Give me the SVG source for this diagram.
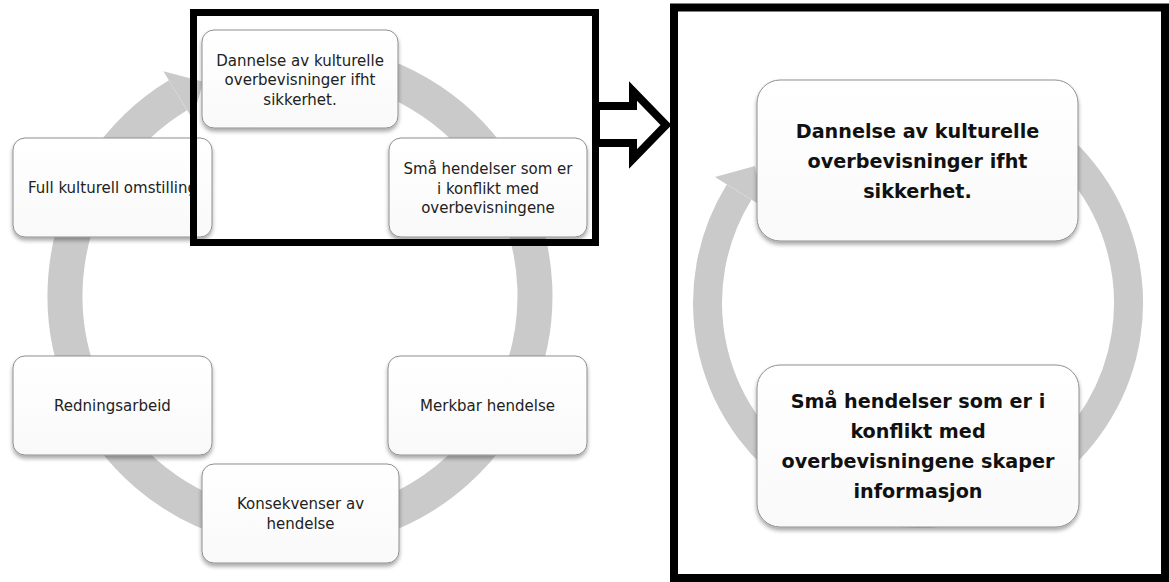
<svg xmlns="http://www.w3.org/2000/svg" width="1169" height="582" viewBox="0 0 1169 582">
<style>
.node{fill:url(#g);stroke:#8f8f8f;stroke-width:1;filter:url(#sh)}
.ring{fill:none;stroke:#cacaca}
.head{fill:#cacaca}
.t{font-family:"DejaVu Sans","Liberation Sans",sans-serif;font-size:15px;fill:#222;text-anchor:middle}
.tb{font-family:"DejaVu Sans","Liberation Sans",sans-serif;font-size:19.2px;font-weight:bold;fill:#111;text-anchor:middle}
.frame{fill:none;stroke:#000}
</style>
<defs>
<linearGradient id="g" x1="0" y1="0" x2="0" y2="1"><stop offset="0" stop-color="#ffffff"/><stop offset="1" stop-color="#f9f9f9"/></linearGradient>
<filter id="sh" x="-10%" y="-10%" width="120%" height="135%">
<feGaussianBlur in="SourceAlpha" stdDeviation="2"/>
<feOffset dy="3"/>
<feComponentTransfer><feFuncA type="linear" slope="0.35"/></feComponentTransfer>
<feMerge><feMergeNode/><feMergeNode in="SourceGraphic"/></feMerge>
</filter>
</defs>
<rect width="1169" height="582" fill="#fff"/>
<g id="connectors">
<path class="ring" stroke-width="35" d="M 320.5 61.9 A 235 235 0 1 1 177.9 95.2"/>
<polygon class="head" points="163.4,71.3 192.5,119.1 203.3,81.8"/>
<path class="ring" stroke-width="29" d="M 1023.3 120.7 A 210.5 210.5 0 1 1 739.1 192.1"/>
<polygon class="head" points="714.9,177 763.3,207.1 755,166"/>
</g>
<g id="node-dannelse"><rect class="node" x="202" y="30" width="196" height="98" rx="12"/>
<text class="t" x="300" y="65.5">Dannelse av kulturelle</text><text class="t" x="300" y="85">overbevisninger ifht</text><text class="t" x="300" y="104.5">sikkerhet.</text></g>
<g id="node-sma"><rect class="node" x="389" y="138" width="198" height="99" rx="12"/>
<text class="t" x="488" y="174">Små hendelser som er</text><text class="t" x="488" y="193.5">i konflikt med</text><text class="t" x="488" y="213">overbevisningene</text></g>
<g id="node-merkbar"><rect class="node" x="388" y="356" width="199" height="99" rx="12"/>
<text class="t" x="487.5" y="411">Merkbar hendelse</text></g>
<g id="node-konsekvenser"><rect class="node" x="202" y="464" width="197" height="99" rx="12"/>
<text class="t" x="300.5" y="509">Konsekvenser av</text><text class="t" x="300.5" y="528.5">hendelse</text></g>
<g id="node-redning"><rect class="node" x="13" y="356" width="199" height="99" rx="12"/>
<text class="t" x="112.5" y="411">Redningsarbeid</text></g>
<g id="node-full"><rect class="node" x="13" y="138" width="199" height="99" rx="12"/>
<text class="t" x="112.5" y="193">Full kulturell omstilling</text></g>
<rect id="frame-left" class="frame" stroke-width="7" x="193.5" y="12.5" width="402" height="230"/>
<g id="connector-arrow">
<polygon points="596,106 633,106 633,91 666,125 633,159 633,143 596,143" fill="#fff" stroke="#000" stroke-width="8" stroke-linejoin="miter"/>
</g>
<g id="node-r-dannelse"><rect class="node" x="757" y="80" width="321" height="161" rx="23"/>
<text class="tb" x="917.5" y="138">Dannelse av kulturelle</text><text class="tb" x="917.5" y="168">overbevisninger ifht</text><text class="tb" x="917.5" y="198">sikkerhet.</text></g>
<g id="node-r-sma"><rect class="node" x="757" y="365" width="322" height="162" rx="23"/>
<text class="tb" x="918" y="408">Små hendelser som er i</text><text class="tb" x="918" y="438">konflikt med</text><text class="tb" x="918" y="468">overbevisningene skaper</text><text class="tb" x="918" y="498">informasjon</text></g>
<rect id="frame-right" class="frame" stroke-width="8" x="674" y="7.5" width="491" height="570.5"/>
</svg>
